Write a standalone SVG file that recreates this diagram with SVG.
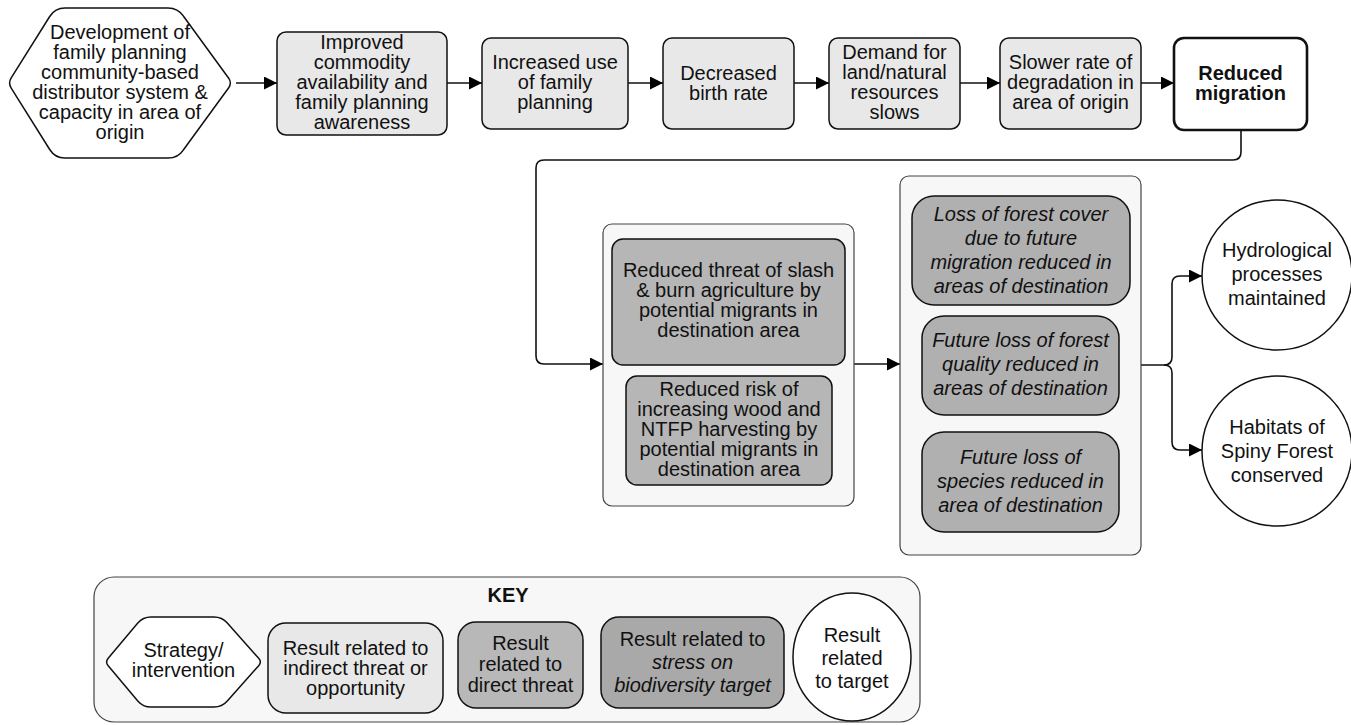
<svg xmlns="http://www.w3.org/2000/svg" width="1351" height="725" viewBox="0 0 1351 725">
<style>
text{font-family:"Liberation Sans",Arial,Helvetica,sans-serif;font-size:20px;fill:#111;text-anchor:middle}
.b{font-weight:bold}
.i{font-style:italic}
.strat{fill:#fff;stroke:#111;stroke-width:1.5}
.ind{fill:#e8e8e8;stroke:#111;stroke-width:1.5}
.dir{fill:#b6b6b6;stroke:#111;stroke-width:1.5}
.str{fill:#b0b0b0;stroke:#111;stroke-width:1.5}
.tgt{fill:#fff;stroke:#111;stroke-width:1.5}
.cont{fill:#f7f7f7;stroke:#444;stroke-width:1.2}
.con{fill:none;stroke:#111;stroke-width:1.6}
</style>
<defs>
<marker id="ah" markerUnits="userSpaceOnUse" markerWidth="14" markerHeight="14" refX="13" refY="6.5" orient="auto">
<path d="M0,0 L13,6.5 L0,13 Z" fill="#000"/>
</marker>
</defs>

<g id="connectors">
<path class="con" d="M236,83 H277" marker-end="url(#ah)"/>
<path class="con" d="M447,83 H482" marker-end="url(#ah)"/>
<path class="con" d="M628,83 H663" marker-end="url(#ah)"/>
<path class="con" d="M794,83 H829" marker-end="url(#ah)"/>
<path class="con" d="M960,83 H1000" marker-end="url(#ah)"/>
<path class="con" d="M1141,83 H1174" marker-end="url(#ah)"/>
<path class="con" d="M1241,131 V152 Q1241,160 1233,160 H544 Q536,160 536,168 V356 Q536,364 544,364 H603" marker-end="url(#ah)"/>
<path class="con" d="M854,364 H900" marker-end="url(#ah)"/>
<path class="con" d="M1141,365 H1164 Q1172,365 1172,357 V284 Q1172,276 1180,276 H1202" marker-end="url(#ah)"/>
<path class="con" d="M1164,365 Q1172,365 1172,373 V442 Q1172,450 1180,450 H1202" marker-end="url(#ah)"/>
</g>

<g id="strategy">
<path class="strat" d="M11.2,77.9 L49.7,16.5 Q55,8 65,8 L168,8 Q178,8 183.5,16.2 L228.7,78.2 Q232,83 228.7,87.8 L183.5,149.8 Q178,158 168,158 L65,158 Q55,158 49.7,149.5 L11.2,88.1 Q8,83 11.2,77.9 Z"/>
<text x="120" y="38.5">Development of</text>
<text x="120" y="58.5">family planning</text>
<text x="120" y="78.5">community-based</text>
<text x="120" y="98.5">distributor system &amp;</text>
<text x="120" y="118.5">capacity in area of</text>
<text x="120" y="138.5">origin</text>
</g>

<g id="commodity">
<rect class="ind" x="277" y="32" width="170" height="103" rx="9"/>
<text x="362" y="48.5">Improved</text>
<text x="362" y="68.5">commodity</text>
<text x="362" y="88.5">availability and</text>
<text x="362" y="108.5">family planning</text>
<text x="362" y="128.5">awareness</text>
</g>

<g id="increased-use">
<rect class="ind" x="482" y="38" width="146" height="91" rx="9"/>
<text x="555" y="69">Increased use</text>
<text x="555" y="89">of family</text>
<text x="555" y="109">planning</text>
</g>

<g id="birth-rate">
<rect class="ind" x="663" y="38" width="131" height="91" rx="9"/>
<text x="728.5" y="79.5">Decreased</text>
<text x="728.5" y="99.5">birth rate</text>
</g>

<g id="demand">
<rect class="ind" x="829" y="38" width="131" height="91" rx="9"/>
<text x="894.5" y="59">Demand for</text>
<text x="894.5" y="79">land/natural</text>
<text x="894.5" y="99">resources</text>
<text x="894.5" y="119">slows</text>
</g>

<g id="degradation">
<rect class="ind" x="1000" y="38" width="141" height="91" rx="9"/>
<text x="1070.5" y="69">Slower rate of</text>
<text x="1070.5" y="89">degradation in</text>
<text x="1070.5" y="109">area of origin</text>
</g>

<g id="reduced-migration">
<rect x="1174" y="38" width="133" height="92" rx="10" fill="#fff" stroke="#111" stroke-width="2.6"/>
<text class="b" x="1240.5" y="79.5">Reduced</text>
<text class="b" x="1240.5" y="99.5">migration</text>
</g>

<g id="direct-threats">
<rect class="cont" x="603" y="224" width="251" height="282" rx="9"/>
<g id="slash-burn">
<rect class="dir" x="612" y="239" width="233" height="126" rx="11"/>
<text x="728.5" y="277">Reduced threat of slash</text>
<text x="728.5" y="297">&amp; burn agriculture by</text>
<text x="728.5" y="317">potential migrants in</text>
<text x="728.5" y="337">destination area</text>
</g>
<g id="wood-ntfp">
<rect class="dir" x="626" y="376" width="206" height="109" rx="11"/>
<text x="729" y="395.5">Reduced risk of</text>
<text x="729" y="415.5">increasing wood and</text>
<text x="729" y="435.5">NTFP harvesting by</text>
<text x="729" y="455.5">potential migrants in</text>
<text x="729" y="475.5">destination area</text>
</g>
</g>

<g id="stresses">
<rect class="cont" x="900" y="176" width="241" height="379" rx="9"/>
<g id="forest-cover">
<rect class="str" x="912" y="196" width="218" height="109" rx="22"/>
<text class="i" x="1021" y="220.5">Loss of forest cover</text>
<text class="i" x="1021" y="244.5">due to future</text>
<text class="i" x="1021" y="268.5">migration reduced in</text>
<text class="i" x="1021" y="292.5">areas of destination</text>
</g>
<g id="forest-quality">
<rect class="str" x="922" y="316" width="197" height="99" rx="22"/>
<text class="i" x="1020.5" y="347">Future loss of forest</text>
<text class="i" x="1020.5" y="371">quality reduced in</text>
<text class="i" x="1020.5" y="395">areas of destination</text>
</g>
<g id="species">
<rect class="str" x="922" y="432" width="197" height="100" rx="22"/>
<text class="i" x="1020.5" y="464">Future loss of</text>
<text class="i" x="1020.5" y="488">species reduced in</text>
<text class="i" x="1020.5" y="512">area of destination</text>
</g>
</g>

<g id="hydrological">
<circle class="tgt" cx="1277" cy="275" r="75"/>
<text x="1277" y="257">Hydrological</text>
<text x="1277" y="281">processes</text>
<text x="1277" y="305">maintained</text>
</g>

<g id="spiny-forest">
<circle class="tgt" cx="1277" cy="451" r="75"/>
<text x="1277" y="434">Habitats of</text>
<text x="1277" y="458">Spiny Forest</text>
<text x="1277" y="482">conserved</text>
</g>

<g id="key">
<rect class="cont" x="94" y="577" width="826" height="145" rx="20"/>
<text class="b" x="508" y="602">KEY</text>
<g id="key-strategy">
<path class="strat" d="M108.2,658.2 L137.8,623.1 Q143,617 151,617 L214,617 Q222,617 227.3,623 L258.7,658.3 Q262,662 258.7,665.7 L227.3,701 Q222,707 214,707 L151,707 Q143,707 137.8,700.9 L108.2,665.8 Q105,662 108.2,658.2 Z"/>
<text x="183.5" y="657">Strategy/</text>
<text x="183.5" y="677">intervention</text>
</g>
<g id="key-indirect">
<rect class="ind" x="268" y="623" width="175" height="90" rx="18"/>
<text x="355.5" y="655">Result related to</text>
<text x="355.5" y="675">indirect threat or</text>
<text x="355.5" y="695">opportunity</text>
</g>
<g id="key-direct">
<rect x="458" y="622" width="125" height="86" rx="18" fill="#b8b8b8" stroke="#111" stroke-width="1.5"/>
<text x="520.5" y="650">Result</text>
<text x="520.5" y="671">related to</text>
<text x="520.5" y="692">direct threat</text>
</g>
<g id="key-stress">
<rect x="601" y="617" width="183" height="91" rx="18" fill="#a9a9a9" stroke="#111" stroke-width="1.5"/>
<text x="692.5" y="645.5">Result related to</text>
<text class="i" x="692.5" y="668.5">stress on</text>
<text class="i" x="692.5" y="691.5">biodiversity target</text>
</g>
<g id="key-target">
<ellipse class="tgt" cx="852" cy="657" rx="59" ry="64"/>
<text x="852" y="642">Result</text>
<text x="852" y="665">related</text>
<text x="852" y="688">to target</text>
</g>
</g>
</svg>
